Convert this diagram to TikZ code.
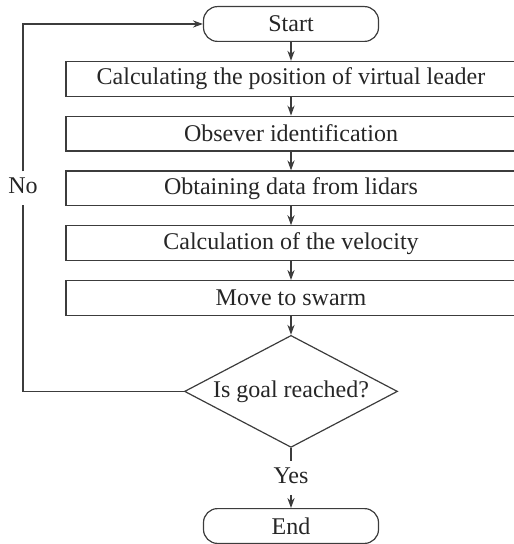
\documentclass[tikz,border=0pt]{standalone}
\usepackage{fontspec}
\setmainfont{Liberation Serif}
\usetikzlibrary{arrows.meta,positioning,shapes.geometric,calc}
\definecolor{ink}{RGB}{60,60,60}

\begin{document}
\begin{tikzpicture}[
      node distance=9.4pt,
      every node/.style={font=\fontsize{12}{14}\selectfont,text=black!85},
      box/.style={draw=ink,line width=0.6pt,
        minimum width=225pt,minimum height=17.4pt,inner sep=0pt},
      term/.style={draw=ink,line width=0.6pt,rounded corners=7pt,
        minimum width=87.5pt,minimum height=17.4pt,inner sep=0pt},
      dec/.style={draw=ink,line width=0.6pt,diamond,aspect=1.9,
        minimum width=106.5pt,minimum height=56pt,inner sep=0pt},
      lbl/.style={fill=white,inner sep=3pt,
        text height=8pt,text depth=2.5pt},
      line/.style={line width=0.6pt,ink},
      arr/.style={line,-{Stealth[length=5pt,width=3.6pt]}}
    ]
      \useasboundingbox (0,0) rectangle (256.5pt,-272pt);

      \node[term] (start) at (145.5pt,-12pt) {Start};
      \node[box,below=of start] (b1) {Calculating the position of virtual leader};
      \node[box,below=of b1] (b2) {Obsever identification};
      \node[box,below=of b2] (b3) {Obtaining data from lidars};
      \node[box,below=of b3] (b4) {Calculation of the velocity};
      \node[box,below=of b4] (b5) {Move to swarm};
      \node[dec,below=of b5] (goal) {Is goal reached?};
      \node[term,below=30pt of goal] (stop) {End};

      % labels on the branches
      \coordinate (lft) at (11.5pt,0);
      \node[lbl] (no) at (lft |- b3) {No};
      \node[lbl] (yes) at ($(goal.south)!0.5!(stop.north)$) {Yes};

      \draw[arr] (start) -- (b1);
      \draw[arr] (b1) -- (b2);
      \draw[arr] (b2) -- (b3);
      \draw[arr] (b3) -- (b4);
      \draw[arr] (b4) -- (b5);
      \draw[arr] (b5) -- (goal);
      \draw[line] (goal.south) -- (yes);
      \draw[arr] (yes) -- (stop);
      \draw[line] (goal.west) -| (no);
      \draw[arr] (no) |- (start.west);
    \end{tikzpicture}
\end{document}
